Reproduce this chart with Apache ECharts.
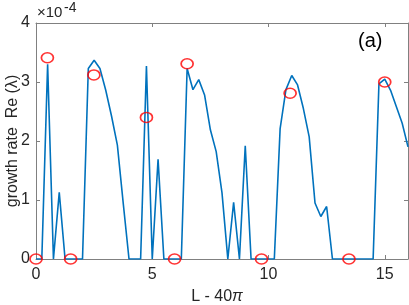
<!DOCTYPE html>
<html><head><meta charset="utf-8">
<script src="https://cdn.jsdelivr.net/npm/echarts@6/dist/echarts.min.js"></script>
<style>html,body{margin:0;padding:0;background:#fff}#c{width:409px;height:305px}</style>
</head><body><div id="c"></div>
<script>
// x: L - 40π
const lengthOffsets = [0,0.25,0.5,0.75,1,1.25,1.5,1.75,2,2.25,2.5,2.75,3,3.25,3.5,3.75,4,4.25,4.5,4.75,5,5.25,5.5,5.75,6,6.25,6.5,6.75,7,7.25,7.5,7.75,8,8.25,8.5,8.75,9,9.25,9.5,9.75,10,10.25,10.5,10.75,11,11.25,11.5,11.75,12,12.25,12.5,12.75,13,13.25,13.5,13.75,14,14.25,14.5,14.75,15,15.25,15.5,15.75,16];
// growth rate Re(λ), in units of 1e-4
const growthRate = [0,0,3.3,0,1.13,0,0,0,0,3.23,3.37,3.23,2.86,2.42,1.93,0.95,0,0,0,3.27,0,1.69,0,0,0,0,3.23,2.87,3.04,2.78,2.19,1.82,1.12,0,0.96,0,1.92,0,0,0,0,0,2.21,2.87,3.11,2.95,2.55,2.07,0.95,0.72,0.89,0,0,0,0,0,0,0,0,2.97,3.05,2.86,2.58,2.30,1.90];
// red circle markers
const markedX = [0,0.49,1.49,2.49,4.75,5.96,6.5,9.7,10.93,13.46,15.0];
const markedY = [0,3.41,0,3.12,2.40,0,3.31,0,2.81,0,3.0];
const xTickStep = 5;
const yTickStep = 1;

const TXT = '#262626', AX = '#808080', FF = '"Liberation Sans", Arial, sans-serif';
const chart = echarts.init(document.getElementById('c'), null, {renderer:'canvas'});
const baseX = {type:'value', min:0, max:16, interval:xTickStep, splitLine:{show:false},
  axisLine:{show:true, onZero:false, lineStyle:{color:AX, width:1}},
  axisTick:{show:true, inside:true, length:4, lineStyle:{color:AX}}};
const baseY = {type:'value', min:0, max:4, interval:yTickStep, splitLine:{show:false},
  axisLine:{show:true, onZero:false, lineStyle:{color:AX, width:1}},
  axisTick:{show:true, inside:true, length:4, lineStyle:{color:AX}}};
chart.setOption({
  animation:false,
  backgroundColor:'#fff',
  grid:{left:36, right:1, top:23, bottom:46, containLabel:false, outerBoundsMode:'none'},
  xAxis:[
    Object.assign({}, baseX, {position:'bottom',
      axisLabel:{show:true, showMaxLabel:false, fontSize:16, color:TXT, fontFamily:FF, margin:8},
      name:'{n|L - 40}{p|π}', nameLocation:'middle', nameGap:30, nameMoveOverlap:false,
      nameTextStyle:{color:TXT, fontFamily:FF, fontSize:16, padding:[0,10,0,0],
        rich:{n:{fontSize:16, color:TXT, fontFamily:FF}, p:{fontSize:16, color:TXT, fontFamily:FF, fontStyle:'italic'}}}}),
    Object.assign({}, baseX, {position:'top', axisLabel:{show:false}})
  ],
  yAxis:[
    Object.assign({}, baseY, {position:'left',
      axisLabel:{show:true, fontSize:16, color:TXT, fontFamily:FF, margin:6},
      name:'growth rate  Re (λ)', nameLocation:'middle', nameGap:15, nameMoveOverlap:false,
      nameTextStyle:{color:TXT, fontFamily:FF, fontSize:16}}),
    Object.assign({}, baseY, {position:'right', axisLabel:{show:false}})
  ],
  graphic:[
    {type:'text', left:37, top:5, style:{text:'×10', fontSize:15, fill:TXT, fontFamily:FF}},
    {type:'text', left:64, top:1, style:{text:'-4', fontSize:14, fill:TXT, fontFamily:FF}},
    {type:'text', left:358, top:31, style:{text:'(a)', fontSize:20, fill:'#000', fontFamily:FF}}
  ],
  series:[
    {type:'line', xAxisIndex:0, yAxisIndex:0, showSymbol:false, symbol:'none',
      data:lengthOffsets.map((x,i)=>[x, growthRate[i]]),
      lineStyle:{color:'#0072BD', width:1.6}, z:3},
    {type:'scatter', xAxisIndex:0, yAxisIndex:0, symbol:'circle', symbolSize:[12,10],
      data:markedX.map((x,i)=>[x, markedY[i]]),
      itemStyle:{color:'rgba(0,0,0,0)', borderColor:'#ff0000', borderWidth:1.6}, z:4}
  ]
});
</script></body></html>
